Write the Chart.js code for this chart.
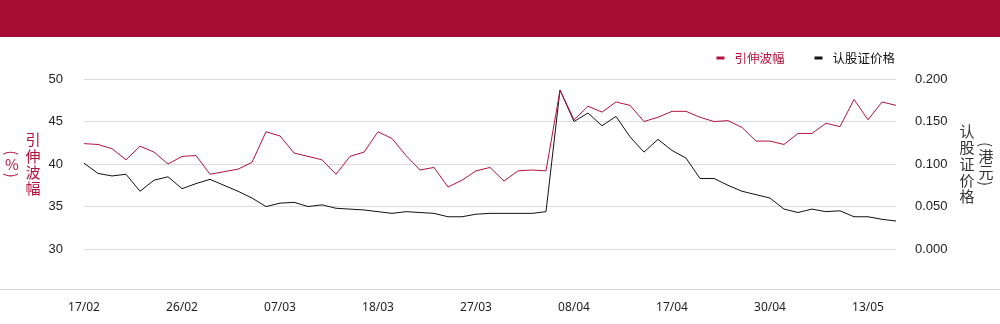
<!DOCTYPE html>
<html>
<head>
<meta charset="utf-8">
<script src="https://cdn.jsdelivr.net/npm/chart.js@4.4.1/dist/chart.umd.min.js"></script>
<style>
  html, body { margin: 0; padding: 0; background: #fff; }
  #wrap { position: relative; width: 1000px; height: 324px; overflow: hidden; }
  #banner { position: absolute; left: 0; top: 0; width: 1000px; height: 37px; background: #a50d33; }
  #rule { position: absolute; left: 0; top: 289px; width: 1000px; height: 1px; background: #d4d4d4; }
  #box { position: absolute; left: 0; top: 37px; width: 1000px; height: 287px; }
</style>
</head>
<body>
<div id="wrap">
  <div id="banner"></div>
  <div id="rule"></div>
  <div id="box"><canvas id="warrantChart" width="1000" height="287"></canvas></div>
</div>
<script>
// Trading days shown on the x axis
const dates = [
    '17/02', '18/02', '19/02', '20/02', '21/02', '24/02', '25/02', '26/02', '27/02', '28/02',
    '03/03', '04/03', '05/03', '06/03', '07/03', '10/03', '11/03', '12/03', '13/03', '14/03',
    '17/03', '18/03', '19/03', '20/03', '21/03', '24/03', '25/03', '26/03', '27/03', '28/03',
    '31/03', '01/04', '02/04', '03/04', '07/04', '08/04', '09/04', '10/04', '11/04', '14/04',
    '15/04', '16/04', '17/04', '22/04', '23/04', '24/04', '25/04', '28/04', '29/04', '30/04',
    '02/05', '06/05', '07/05', '08/05', '09/05', '12/05', '13/05', '14/05', '15/05'
];

// Implied volatility (%) - left axis
const volatility = [
    42.4, 42.3, 41.8, 40.5, 42.1, 41.4, 40.0, 40.9, 41.0, 38.8,
    39.1, 39.4, 40.2, 43.8, 43.3, 41.3, 40.9, 40.5, 38.8, 40.9,
    41.4, 43.8, 43.0, 41.0, 39.3, 39.6, 37.3, 38.1, 39.2, 39.6,
    38.0, 39.2, 39.3, 39.2, 48.7, 45.2, 46.8, 46.1, 47.3, 46.9,
    45.0, 45.5, 46.2, 46.2, 45.5, 45.0, 45.1, 44.3, 42.7, 42.7,
    42.3, 43.6, 43.6, 44.8, 44.4, 47.6, 45.2, 47.3, 46.9
];

// Warrant price (HKD) - right axis
const price = [
    0.101, 0.089, 0.086, 0.088, 0.068, 0.081, 0.085, 0.071, 0.077, 0.082,
    0.075, 0.068, 0.060, 0.050, 0.054, 0.055, 0.050, 0.052, 0.048, 0.047,
    0.046, 0.044, 0.042, 0.044, 0.043, 0.042, 0.038, 0.038, 0.041, 0.042,
    0.042, 0.042, 0.042, 0.044, 0.187, 0.150, 0.160, 0.145, 0.156, 0.132,
    0.114, 0.129, 0.116, 0.107, 0.083, 0.083, 0.075, 0.068, 0.064, 0.060,
    0.047, 0.043, 0.047, 0.044, 0.045, 0.038, 0.038, 0.035, 0.033
];

const leftTicks = [30, 35, 40, 45, 50];
const rightTicks = [0, 0.05, 0.1, 0.15, 0.2];

const RED = '#b3123f';
const CJK = '"Noto Sans CJK SC", "Noto Sans", sans-serif';

// Draw a column of characters top to bottom; rotated parts are turned 90deg
function drawColumn(ctx, parts, cx, cy, size, color) {
    ctx.save();
    ctx.font = size + 'px ' + CJK;
    ctx.fillStyle = color;
    ctx.textAlign = 'center';
    ctx.textBaseline = 'middle';
    const heights = parts.map(p => p.rot ? ctx.measureText(p.t).width + 1 : size * 1.09);
    let y = cy - heights.reduce((a, b) => a + b, 0) / 2;
    parts.forEach((p, i) => {
        const mid = y + heights[i] / 2;
        if (p.rot) {
            ctx.save();
            ctx.translate(cx, mid);
            ctx.rotate(Math.PI / 2);
            ctx.fillText(p.t, 0, 0);
            ctx.restore();
        } else {
            ctx.fillText(p.t, cx, mid);
        }
        y += heights[i];
    });
    ctx.restore();
}

function chars(str) {
    return str.split('').map(c => ({ t: c, rot: c === '(' || c === ')' }));
}

// Axis titles and the small legend in the top right corner
const decorations = {
    id: 'decorations',
    afterDraw(chart) {
        const ctx = chart.ctx;
        const yl = chart.scales.yLeft;
        const cy = (yl.getPixelForValue(50) + yl.getPixelForValue(30)) / 2;

        drawColumn(ctx, chars('引伸波幅'), 33, cy, 15, RED);
        drawColumn(ctx, chars('(%)'), 12, cy, 15, RED);
        drawColumn(ctx, chars('认股证价格'), 967, cy, 15, '#333');
        drawColumn(ctx, chars('(港元)'), 986, cy, 15, '#333');

        // legend
        ctx.save();
        ctx.font = '12.5px ' + CJK;
        ctx.textBaseline = 'middle';
        const ly = chart.chartArea.top - 21;
        let right = chart.chartArea.right - 1;
        const sets = chart.data.datasets.slice().reverse();
        sets.forEach(ds => {
            const w = ctx.measureText(ds.label).width;
            const tx = right - w;
            ctx.fillStyle = ds.borderColor;
            ctx.fillText(ds.label, tx, ly);
            ctx.fillRect(tx - 18, ly - 1.5, 8, 3);
            right = tx - 18 - 30;
        });
        ctx.restore();
    }
};

const ctx = document.getElementById('warrantChart').getContext('2d');
const warrantChart = new Chart(ctx, {
    type: 'line',
    data: {
        labels: dates,
        datasets: [
            {
                label: '引伸波幅',
                data: volatility,
                yAxisID: 'yLeft',
                borderColor: RED,
                borderWidth: 1,
                pointRadius: 0,
                tension: 0
            },
            {
                label: '认股证价格',
                data: price,
                yAxisID: 'yRight',
                borderColor: '#111',
                borderWidth: 1,
                pointRadius: 0,
                tension: 0
            }
        ]
    },
    options: {
        responsive: false,
        animation: false,
        devicePixelRatio: 1,
        layout: { padding: { top: 42, bottom: 0, left: 0, right: 0 } },
        plugins: {
            legend: { display: false },
            tooltip: { enabled: false }
        },
        scales: {
            x: {
                grid: { display: false, drawTicks: false },
                border: { display: false },
                ticks: {
                    autoSkip: false,
                    maxRotation: 0,
                    padding: 9,
                    color: '#222',
                    font: { family: '"Noto Sans", sans-serif', size: 12 },
                    callback: (v, i) => (i % 7 === 0 ? dates[i] : '')
                }
            },
            yLeft: {
                position: 'left',
                min: 25,
                max: 50,
                afterFit: s => { s.width = 84; },
                afterBuildTicks: s => { s.ticks = [25].concat(leftTicks).map(v => ({ value: v })); },
                border: { display: false },
                grid: {
                    drawTicks: false,
                    color: c => (c.tick && c.tick.value === 25 ? 'rgba(0,0,0,0)' : '#dcdcdc')
                },
                ticks: {
                    padding: 21,
                    color: '#222',
                    font: { family: '"Liberation Sans", Arial, sans-serif', size: 13 },
                    callback: v => (v === 25 ? '' : v)
                }
            },
            yRight: {
                position: 'right',
                min: -0.05,
                max: 0.2,
                afterFit: s => { s.width = 104; },
                afterBuildTicks: s => { s.ticks = [-0.05].concat(rightTicks).map(v => ({ value: v })); },
                border: { display: false },
                grid: { display: false, drawOnChartArea: false, drawTicks: false },
                ticks: {
                    padding: 19,
                    color: '#222',
                    font: { family: '"Liberation Sans", Arial, sans-serif', size: 13 },
                    callback: v => (v < -0.01 ? '' : v.toFixed(3))
                }
            }
        }
    },
    plugins: [decorations]
});
</script>
</body>
</html>
